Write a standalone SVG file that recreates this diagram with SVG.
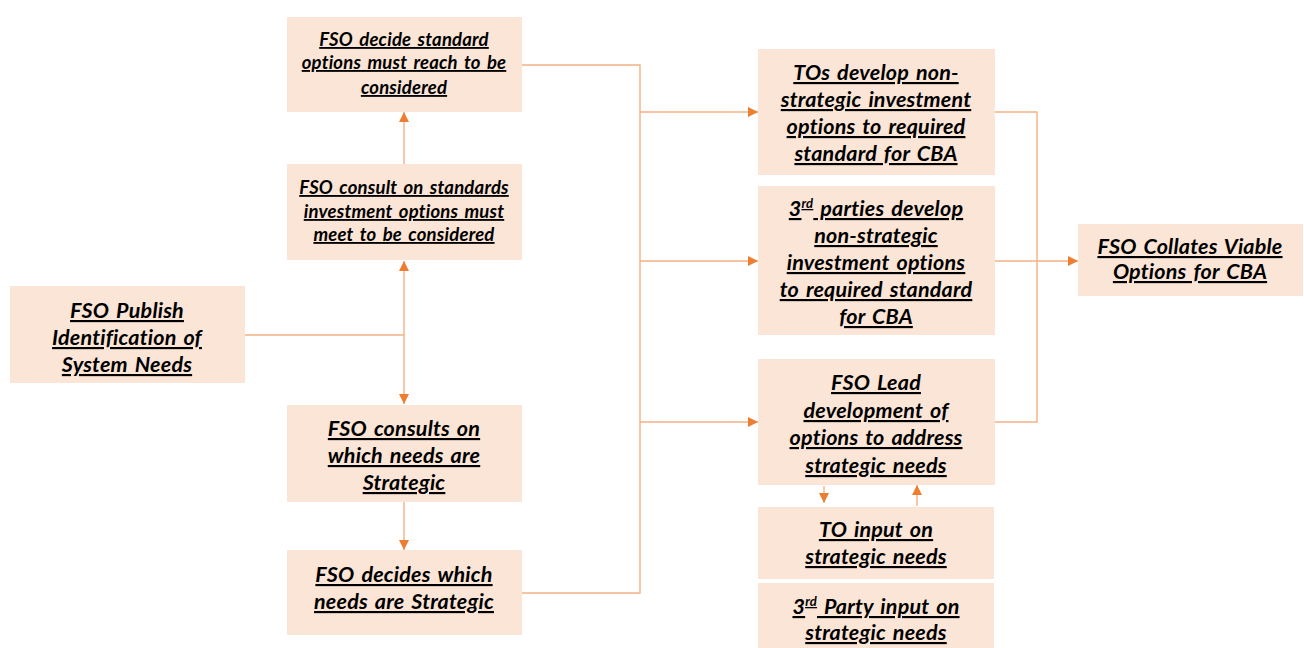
<svg xmlns="http://www.w3.org/2000/svg" width="1304" height="648" viewBox="0 0 1304 648">
  <style>
    .box { fill: #FBE5D6; }
    .t { font-family: Lato, "Open Sans", "Liberation Sans", sans-serif; font-weight: bold; font-style: italic; text-decoration: underline; fill: #000; text-anchor: middle; font-size: 21.5px; letter-spacing: 0.2px; word-spacing: 2px; }
    .s { font-size: 18.5px; }
    .sup { font-size: 13px; }
    .ln { fill: none; stroke: #F4B183; stroke-width: 1.4; }
  </style>
  <defs>
    <marker id="ah" markerUnits="userSpaceOnUse" markerWidth="10" markerHeight="10" viewBox="0 0 10 10" refX="10" refY="5" orient="auto">
      <path d="M0,0 L10,5 L0,10 z" fill="#ED7D31"/>
    </marker>
  </defs>

  <!-- connectors -->
  <g id="connectors">
    <!-- publish to consult boxes -->
    <path class="ln" d="M245,335 H404"/>
    <path class="ln" d="M404,335 V261" marker-end="url(#ah)"/>
    <path class="ln" d="M404,335 V404" marker-end="url(#ah)"/>
    <path class="ln" d="M404,164 V112" marker-end="url(#ah)"/>
    <path class="ln" d="M404,502 V550" marker-end="url(#ah)"/>
    <!-- trunk to development boxes -->
    <path class="ln" d="M522,65 H640 V593 H522"/>
    <path class="ln" d="M640,112 H758" marker-end="url(#ah)"/>
    <path class="ln" d="M640,261 H758" marker-end="url(#ah)"/>
    <path class="ln" d="M640,422 H758" marker-end="url(#ah)"/>
    <!-- collation -->
    <path class="ln" d="M995,112 H1037 V422 H995"/>
    <path class="ln" d="M995,261 H1078" marker-end="url(#ah)"/>
    <!-- strategic input loop -->
    <path class="ln" d="M824,486 V503" marker-end="url(#ah)"/>
    <path class="ln" d="M917,506 V485" marker-end="url(#ah)"/>
  </g>

  <g id="n-decide-standard">
    <rect class="box" x="287" y="17" width="235" height="95"/>
    <text class="t s" x="404" y="46">FSO decide standard</text>
    <text class="t s" x="404" y="69">options must reach to be</text>
    <text class="t s" x="404" y="94">considered</text>
  </g>

  <g id="n-consult-standards">
    <rect class="box" x="287" y="164" width="235" height="96"/>
    <text class="t s" x="404" y="194">FSO consult on standards</text>
    <text class="t s" x="404" y="218">investment options must</text>
    <text class="t s" x="404" y="241">meet to be considered</text>
  </g>

  <g id="n-publish">
    <rect class="box" x="10" y="286" width="235" height="97"/>
    <text class="t" x="127" y="318">FSO Publish</text>
    <text class="t" x="127" y="345">Identification of</text>
    <text class="t" x="127" y="372">System Needs</text>
  </g>

  <g id="n-consults-strategic">
    <rect class="box" x="287" y="405" width="235" height="97"/>
    <text class="t" x="404" y="436">FSO consults on</text>
    <text class="t" x="404" y="463">which needs are</text>
    <text class="t" x="404" y="490">Strategic</text>
  </g>

  <g id="n-decides-strategic">
    <rect class="box" x="287" y="550" width="235" height="85"/>
    <text class="t" x="404" y="582">FSO decides which</text>
    <text class="t" x="404" y="609">needs are Strategic</text>
  </g>

  <g id="n-tos-develop">
    <rect class="box" x="758" y="49" width="237" height="126"/>
    <text class="t" x="876" y="80">TOs develop non-</text>
    <text class="t" x="876" y="107">strategic investment</text>
    <text class="t" x="876" y="134">options to required</text>
    <text class="t" x="876" y="161">standard for CBA</text>
  </g>

  <g id="n-parties-develop">
    <rect class="box" x="758" y="186" width="237" height="149"/>
    <text class="t" x="876" y="216">3<tspan class="sup" dy="-8">rd</tspan><tspan dy="8"> parties develop</tspan></text>
    <text class="t" x="876" y="243">non-strategic</text>
    <text class="t" x="876" y="270">investment options</text>
    <text class="t" x="876" y="297">to required standard</text>
    <text class="t" x="876" y="324">for CBA</text>
  </g>

  <g id="n-fso-lead">
    <rect class="box" x="758" y="359" width="237" height="126"/>
    <text class="t" x="876" y="390">FSO Lead</text>
    <text class="t" x="876" y="418">development of</text>
    <text class="t" x="876" y="445">options to address</text>
    <text class="t" x="876" y="473">strategic needs</text>
  </g>

  <g id="n-to-input">
    <rect class="box" x="758" y="507" width="236" height="72"/>
    <text class="t" x="876" y="537">TO input on</text>
    <text class="t" x="876" y="564">strategic needs</text>
  </g>

  <g id="n-party-input">
    <rect class="box" x="758" y="583" width="236" height="65"/>
    <text class="t" x="876" y="614">3<tspan class="sup" dy="-8">rd</tspan><tspan dy="8"> Party input on</tspan></text>
    <text class="t" x="876" y="640">strategic needs</text>
  </g>

  <g id="n-collates">
    <rect class="box" x="1078" y="224" width="225" height="72"/>
    <text class="t" x="1190" y="254">FSO Collates Viable</text>
    <text class="t" x="1190" y="279">Options for CBA</text>
  </g>
</svg>
